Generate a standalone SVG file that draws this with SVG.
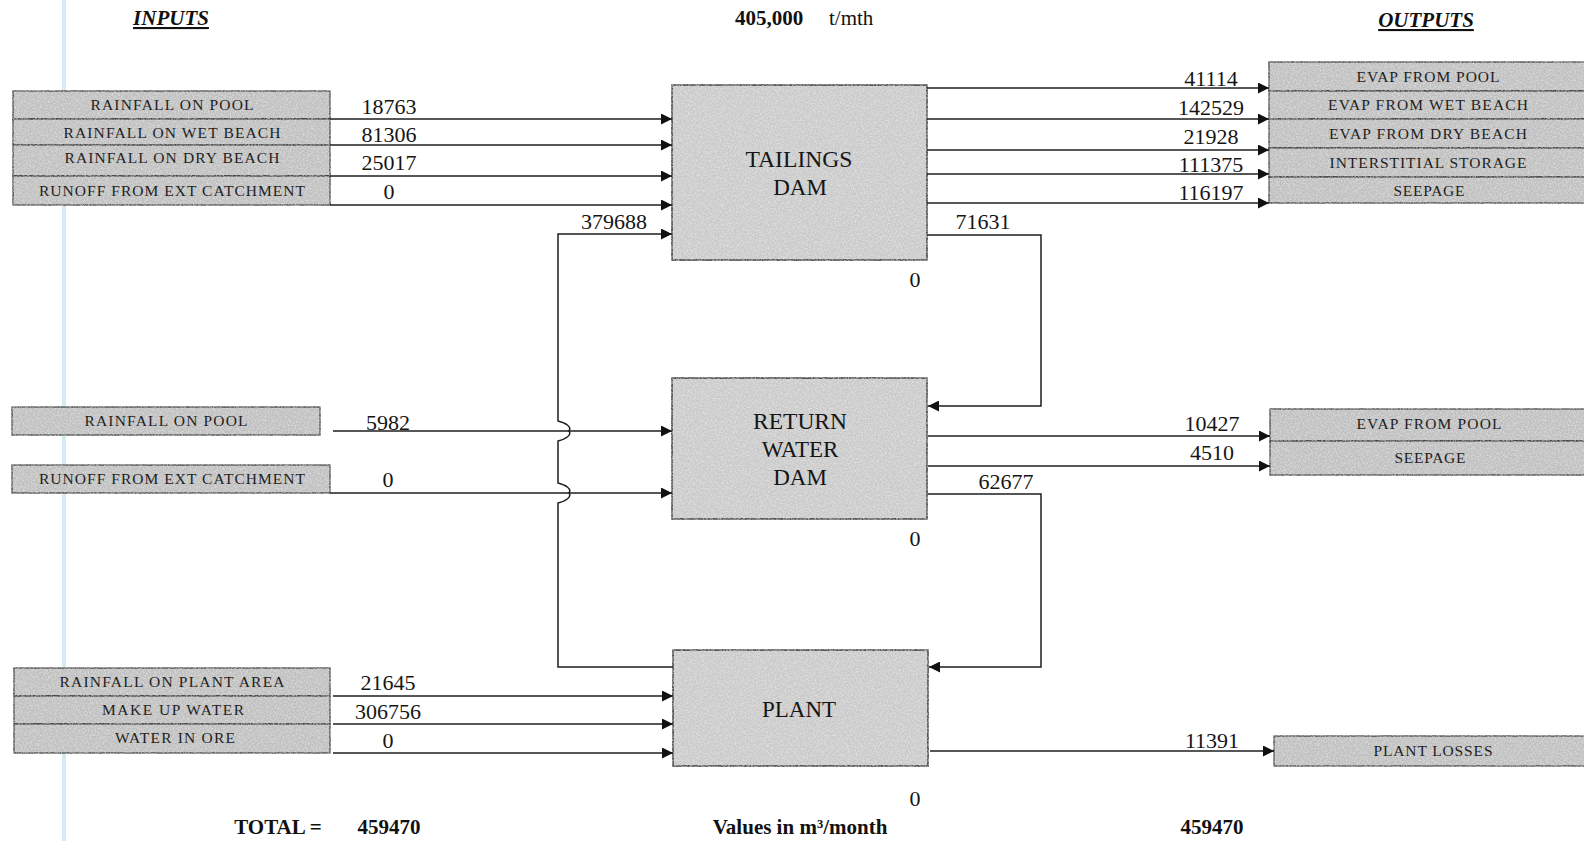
<svg xmlns="http://www.w3.org/2000/svg" width="1584" height="841" viewBox="0 0 1584 841">
<style>
.bg{fill:#ffffff}
.box{fill:#c0c0c0;stroke:#3a3a3a;stroke-width:1.3;filter:url(#tex)}
.big{fill:#cacaca;stroke:#2e2e2e;stroke-width:1.5;filter:url(#tex)}
.lbl{font-family:"Liberation Serif",serif;font-size:15.5px;text-anchor:middle;fill:#1e1e1e}
.nm{font-family:"Liberation Serif",serif;font-size:22px;text-anchor:middle;fill:#151515}
.bn{font-family:"Liberation Serif",serif;font-size:23px;text-anchor:middle;fill:#151515}
.ttl{font-family:"Liberation Serif",serif;font-size:21px;font-weight:bold;font-style:italic;text-anchor:middle;text-decoration:underline;fill:#111}
.bold{font-family:"Liberation Serif",serif;font-size:21px;font-weight:bold;fill:#111}
.flow{stroke:#1e1e1e;stroke-width:1.5;fill:none}
.arr{marker-end:url(#ah)}
</style>
<defs>
<marker id="ah" viewBox="0 0 10 10" refX="10" refY="5" markerWidth="11" markerHeight="11" markerUnits="userSpaceOnUse" orient="auto">
<path d="M0,0 L10,5 L0,10 z" fill="#111"/>
</marker>
<filter id="tex" x="-2%" y="-5%" width="104%" height="110%">
<feTurbulence type="fractalNoise" baseFrequency="0.6" numOctaves="2" seed="7" result="n"/>
<feColorMatrix in="n" type="matrix" values="0 0 0 0 1  0 0 0 0 1  0 0 0 0 1  0.9 0 0 0 -0.35" result="w"/>
<feComposite in="w" in2="SourceGraphic" operator="in" result="t"/>
<feMerge><feMergeNode in="SourceGraphic"/><feMergeNode in="t"/></feMerge>
</filter>
</defs>
<rect class="bg" x="0" y="0" width="1584" height="841"/>
<rect x="62" y="0" width="4" height="841" fill="#d3ecf2"/>

<g id="titles">
<text class="ttl" x="171" y="25">INPUTS</text>
<text class="bold" x="735" y="25">405,000</text>
<text x="829" y="25" font-family="Liberation Serif, serif" font-size="21" fill="#111">t/mth</text>
<text class="ttl" x="1426" y="27">OUTPUTS</text>
</g>

<g id="in-td-rain-pool"><rect class="box" x="13" y="91" width="317" height="28"/><text class="lbl" x="172" y="110" textLength="163" lengthAdjust="spacing">RAINFALL ON POOL</text></g>
<g id="in-td-rain-wet"><rect class="box" x="13" y="119" width="317" height="26"/><text class="lbl" x="172" y="138" textLength="217" lengthAdjust="spacing">RAINFALL ON WET BEACH</text></g>
<g id="in-td-rain-dry"><rect class="box" x="13" y="145" width="317" height="31"/><text class="lbl" x="172" y="163" textLength="215" lengthAdjust="spacing">RAINFALL ON DRY BEACH</text></g>
<g id="in-td-runoff"><rect class="box" x="13" y="176" width="317" height="29"/><text class="lbl" x="172" y="196" textLength="266" lengthAdjust="spacing">RUNOFF FROM EXT CATCHMENT</text></g>

<g id="in-rwd-rain-pool"><rect class="box" x="12" y="407" width="308" height="28"/><text class="lbl" x="166" y="426" textLength="163" lengthAdjust="spacing">RAINFALL ON POOL</text></g>
<g id="in-rwd-runoff"><rect class="box" x="12" y="465" width="318" height="28"/><text class="lbl" x="172" y="484" textLength="266" lengthAdjust="spacing">RUNOFF FROM EXT CATCHMENT</text></g>

<g id="in-pl-rain"><rect class="box" x="14" y="668" width="316" height="28"/><text class="lbl" x="172" y="687" textLength="225" lengthAdjust="spacing">RAINFALL ON PLANT AREA</text></g>
<g id="in-pl-makeup"><rect class="box" x="14" y="696" width="316" height="28"/><text class="lbl" x="173" y="715" textLength="142" lengthAdjust="spacing">MAKE UP WATER</text></g>
<g id="in-pl-ore"><rect class="box" x="14" y="724" width="316" height="29"/><text class="lbl" x="175" y="743" textLength="120" lengthAdjust="spacing">WATER IN ORE</text></g>

<g id="tailings-dam"><rect class="big" x="672" y="85" width="255" height="175"/><text class="bn" x="799" y="167" textLength="107" lengthAdjust="spacingAndGlyphs">TAILINGS</text><text class="bn" x="800" y="195">DAM</text></g>
<g id="return-water-dam"><rect class="big" x="672" y="378" width="255" height="141"/><text class="bn" x="800" y="429" textLength="94" lengthAdjust="spacingAndGlyphs">RETURN</text><text class="bn" x="800" y="457">WATER</text><text class="bn" x="800" y="485">DAM</text></g>
<g id="plant"><rect class="big" x="673" y="650" width="255" height="116"/><text class="bn" x="799" y="717" textLength="74" lengthAdjust="spacingAndGlyphs">PLANT</text></g>

<g id="out-td-evap-pool"><rect class="box" x="1269" y="62" width="320" height="29"/><text class="lbl" x="1428" y="82" textLength="143" lengthAdjust="spacing">EVAP FROM POOL</text></g>
<g id="out-td-evap-wet"><rect class="box" x="1269" y="91" width="320" height="28"/><text class="lbl" x="1428" y="110" textLength="200" lengthAdjust="spacing">EVAP FROM WET BEACH</text></g>
<g id="out-td-evap-dry"><rect class="box" x="1269" y="119" width="320" height="29"/><text class="lbl" x="1428" y="139" textLength="198" lengthAdjust="spacing">EVAP FROM DRY BEACH</text></g>
<g id="out-td-interstitial"><rect class="box" x="1269" y="148" width="320" height="29"/><text class="lbl" x="1428" y="168" textLength="197" lengthAdjust="spacing">INTERSTITIAL STORAGE</text></g>
<g id="out-td-seepage"><rect class="box" x="1269" y="177" width="320" height="26"/><text class="lbl" x="1429" y="196" textLength="71" lengthAdjust="spacing">SEEPAGE</text></g>

<g id="out-rwd-evap-pool"><rect class="box" x="1270" y="409" width="320" height="32"/><text class="lbl" x="1429" y="429" textLength="145" lengthAdjust="spacing">EVAP FROM POOL</text></g>
<g id="out-rwd-seepage"><rect class="box" x="1270" y="441" width="320" height="34"/><text class="lbl" x="1430" y="463" textLength="71" lengthAdjust="spacing">SEEPAGE</text></g>

<g id="out-pl-losses"><rect class="box" x="1274" y="736" width="316" height="30"/><text class="lbl" x="1433" y="756" textLength="119" lengthAdjust="spacing">PLANT LOSSES</text></g>

<g id="connectors">
<path class="flow arr" d="M330 119 H672"/>
<path class="flow arr" d="M330 145 H672"/>
<path class="flow arr" d="M330 176 H672"/>
<path class="flow arr" d="M330 205 H672"/>
<path class="flow arr" d="M673 667 H558 V503 C566 501 572 497 569 493 C572 489 566 485 558 483 V441 C566 439 572 435 569 431 C572 427 566 423 558 421 V234 H672"/>
<path class="flow arr" d="M927 88 H1269"/>
<path class="flow arr" d="M927 119 H1269"/>
<path class="flow arr" d="M927 150 H1269"/>
<path class="flow arr" d="M927 174 H1269"/>
<path class="flow arr" d="M927 203 H1269"/>
<path class="flow arr" d="M927 235 H1041 V406 H928"/>
<path class="flow arr" d="M333 431 H672"/>
<path class="flow arr" d="M330 493 H672"/>
<path class="flow arr" d="M928 436 H1270"/>
<path class="flow arr" d="M928 466 H1270"/>
<path class="flow arr" d="M928 494 H1041 V667 H929"/>
<path class="flow arr" d="M333 696 H673"/>
<path class="flow arr" d="M333 724 H673"/>
<path class="flow arr" d="M333 753 H673"/>
<path class="flow arr" d="M930 751 H1274"/>
</g>

<g id="values">
<text class="nm" x="389" y="114">18763</text>
<text class="nm" x="389" y="142">81306</text>
<text class="nm" x="389" y="170">25017</text>
<text class="nm" x="389" y="199">0</text>
<text class="nm" x="614" y="229">379688</text>
<text class="nm" x="1211" y="86">41114</text>
<text class="nm" x="1211" y="115">142529</text>
<text class="nm" x="1211" y="144">21928</text>
<text class="nm" x="1211" y="172">111375</text>
<text class="nm" x="1211" y="200">116197</text>
<text class="nm" x="983" y="229">71631</text>
<text class="nm" x="915" y="287">0</text>
<text class="nm" x="388" y="430">5982</text>
<text class="nm" x="388" y="487">0</text>
<text class="nm" x="1212" y="431">10427</text>
<text class="nm" x="1212" y="460">4510</text>
<text class="nm" x="1006" y="489">62677</text>
<text class="nm" x="915" y="546">0</text>
<text class="nm" x="388" y="690">21645</text>
<text class="nm" x="388" y="719">306756</text>
<text class="nm" x="388" y="748">0</text>
<text class="nm" x="1212" y="748">11391</text>
<text class="nm" x="915" y="806">0</text>
</g>

<g id="footer">
<text class="bold" x="278" y="834" text-anchor="middle">TOTAL =</text>
<text class="bold" x="389" y="834" text-anchor="middle">459470</text>
<text class="bold" x="800" y="834" text-anchor="middle">Values in m³/month</text>
<text class="bold" x="1212" y="834" text-anchor="middle">459470</text>
</g>
</svg>
